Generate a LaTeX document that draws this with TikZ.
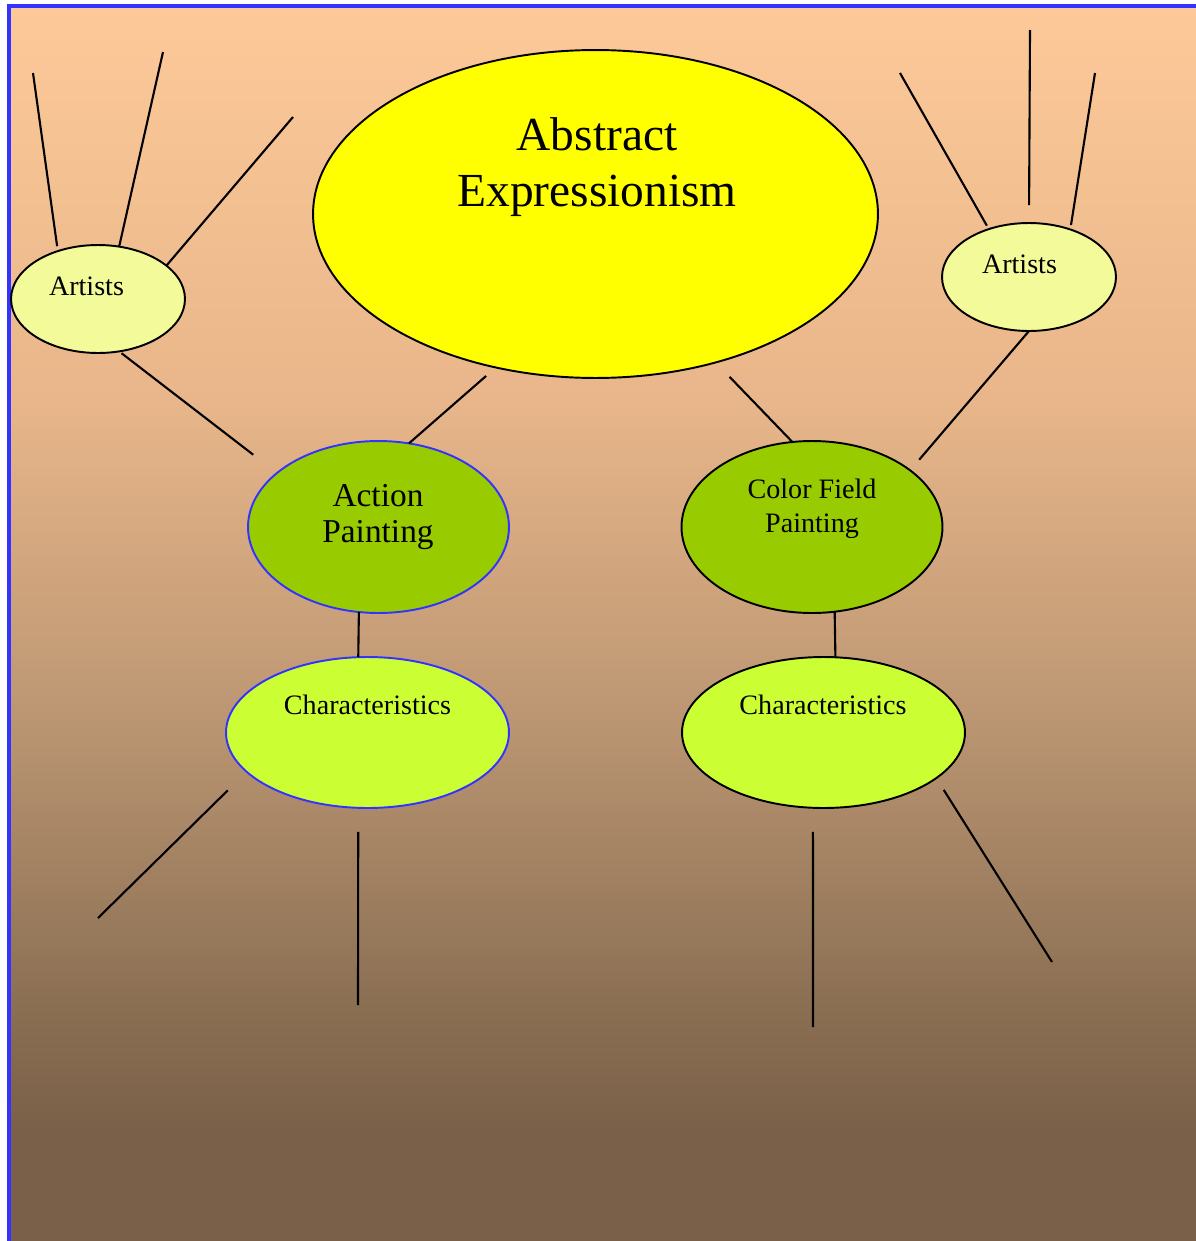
\documentclass[tikz,border=0pt]{standalone}
\usepackage{fontspec}
\setmainfont{Liberation Serif}
\usetikzlibrary{shapes.geometric}
\definecolor{peachtop}{RGB}{253,201,153}
\definecolor{peachmid}{RGB}{232,182,138}
\definecolor{tanmid}{RGB}{190,152,116}
\definecolor{brownlow}{RGB}{140,112,84}
\definecolor{brownbot}{RGB}{122,96,72}
\definecolor{frameblue}{RGB}{51,51,255}
\definecolor{topicyellow}{RGB}{255,255,0}
\definecolor{artistpale}{RGB}{242,250,154}
\definecolor{branchgreen}{RGB}{153,204,0}
\definecolor{traitlime}{RGB}{204,255,51}
\pgfdeclareverticalshading{backdrop}{100bp}{color(0bp)=(brownbot); color(29.5bp)=(brownbot); color(34.8bp)=(brownlow); color(46.9bp)=(tanmid); color(59bp)=(peachmid); color(75bp)=(peachtop); color(100bp)=(peachtop)}

\begin{document}
\begin{tikzpicture}[
      x=0.02cm, y=-0.02cm,
      ell/.style={ellipse, draw, line width=1.1pt, inner sep=0pt, outer sep=0pt},
      topic/.style={ell, fill=topicyellow, minimum width=11.3cm, minimum height=6.56cm},
      artist/.style={ell, fill=artistpale, minimum width=3.48cm, minimum height=2.16cm},
      branch/.style={ell, fill=branchgreen, minimum width=5.22cm, minimum height=3.44cm},
      trait/.style={ell, fill=traitlime, minimum width=5.66cm, minimum height=3.02cm},
      words/.style={align=center, inner sep=0pt, font=\fontsize{16}{19.3}\selectfont},
      link/.style={line width=1.2pt}
    ]
      \useasboundingbox (0,0) rectangle (1196,1241);
      % Backdrop and frame
      \shade[shading=backdrop] (9,6) rectangle (1196,1241);
      \draw[frameblue, line width=1.8pt] (9,1241) -- (9,6) -- (1196,6);

      % Centre topic
      \node[topic] (main) at (595.5,214) {};
      \node[words, font=\fontsize{27}{31.5}\selectfont] (mainTxt) at (597,167) {Abstract\\Expressionism};

      % Artists
      \node[artist] (artL) at (98,299) {};
      \node[words, anchor=base] (artLTxt) at (86.5,295) {Artists};
      \node[artist] (artR) at (1029,277) {};
      \node[words, anchor=base] (artRTxt) at (1019.5,273) {Artists};

      % Two branches
      \node[branch, draw=frameblue] (action) at (378.5,527) {};
      \node[words, font=\fontsize{19}{21}\selectfont] (actionTxt) at (378,517) {Action\\Painting};
      \node[branch] (field) at (812,527) {};
      \node[words] (fieldTxt) at (812,509) {Color Field\\Painting};

      % Characteristics
      \node[trait, draw=frameblue] (charL) at (367.5,732.5) {};
      \node[words, anchor=base] (charLTxt) at (367.5,714) {Characteristics};
      \node[trait] (charR) at (823.5,732.5) {};
      \node[words, anchor=base] (charRTxt) at (823,714) {Characteristics};

      % Loose ends
      \coordinate (artLa) at (33,73);
      \coordinate (artLb) at (163,52);
      \coordinate (artLc) at (293,117);
      \coordinate (artRa) at (900,73);
      \coordinate (artRb) at (1030,30);
      \coordinate (artRc) at (1095,73);
      \coordinate (charLa) at (98,918);
      \coordinate (charLb) at (358,1005);
      \coordinate (charRa) at (813,1027);
      \coordinate (charRb) at (1052,962);

      % Links between nodes
      \draw[link, shorten <=0.06cm, shorten >=0.6cm] (artL.-68) -- (action.152);
      \draw[link, shorten <=0.26cm] (main.237) -- (action.70);
      \draw[link, shorten <=0.4cm] (main.-51) -- (field.103);
      \draw[link, shorten >=0.28cm] (artR.-90) -- (field.30);
      \draw[link] (action.-103) -- (charL.97);
      \draw[link] (field.-75) -- (charR.81);

      % Open lines
      \draw[link, shorten <=0.1cm] (artL.130) -- (artLa);
      \draw[link] (artL.68) -- (artLb);
      \draw[link] (artL.26) -- (artLc);
      \draw[link, shorten <=0.08cm] (artR.130) -- (artRa);
      \draw[link, shorten <=0.36cm] (artR.90) -- (artRb);
      \draw[link, shorten <=0.09cm] (artR.49) -- (artRc);
      \draw[link, shorten <=0.53cm] (charL.198) -- (charLa);
      \draw[link, shorten <=0.48cm] (charL.263) -- (charLb);
      \draw[link, shorten <=0.48cm] (charR.262) -- (charRa);
      \draw[link, shorten <=0.28cm] (charR.-22) -- (charRb);

    \end{tikzpicture}
\end{document}
